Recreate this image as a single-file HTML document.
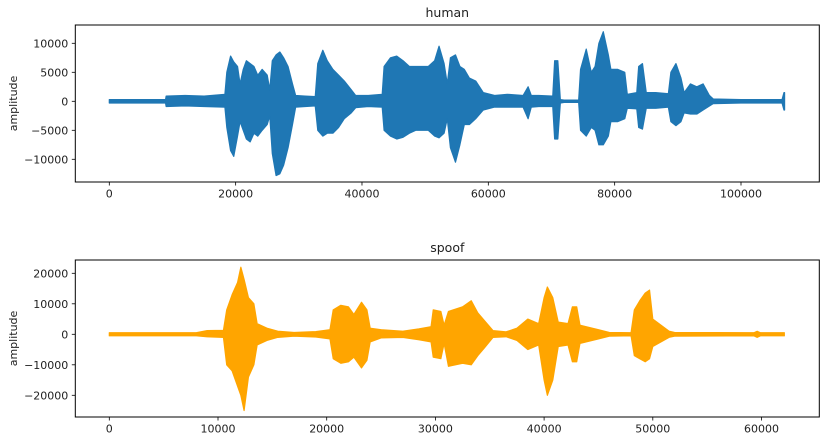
<!DOCTYPE html>
<html><head><meta charset="utf-8"><style>
html,body{margin:0;padding:0;background:#fff;width:826px;height:443px;overflow:hidden}
svg{display:block;font-family:"DejaVu Sans","Liberation Sans",sans-serif}
</style></head><body>
<svg id="chart" width="826" height="443" viewBox="0 0 826 443"></svg>
<script>
// human waveform envelope (sample index in thousands, max, min)
const hx=[0,8.9,9.0,12,15,18.3,18.6,19.2,19.7,20.3,20.7,21.2,21.7,22.3,22.9,23.5,24.2,25.0,25.4,25.8,26.4,27.0,27.6,28.3,29.0,29.5,31,32.6,33.0,33.8,34.5,35.4,36.3,37.2,38.3,39,41,43.2,43.5,44.5,45.5,46.5,47.5,48.5,49.5,50.5,51.5,52.2,53.0,53.5,54.0,54.8,55.5,56.2,57,58,59.2,61,63,65.5,66.3,66.8,68,70.2,70.5,71.0,71.4,72,74.3,74.6,75.5,76.3,76.9,77.5,78.2,79.0,79.4,80.5,81.6,82,83.5,83.8,84.4,85,86.5,88.5,88.9,89.7,90.5,91,92,93,94,95,95.6,100,106.5,106.8,106.9];
const hmax=[300,300,900,1000,900,1200,5000,7800,6800,6000,3000,5500,7000,6500,6000,4500,5500,4500,2000,7000,8000,8500,7500,6000,3000,1000,900,800,6500,8800,7000,5500,4500,3500,2000,1000,1000,1200,6000,7500,7800,7000,6000,6000,6000,6000,7000,9500,6500,3000,7500,8000,6000,5500,4000,3500,1500,1000,1200,1000,2500,1000,1000,900,7000,7000,300,200,200,5500,9000,5000,6000,10000,12000,8000,5500,5500,5000,1200,1500,6000,6500,1500,1500,1300,5000,6500,4000,1500,3000,2500,3000,1000,400,300,300,1500,1500];
const hmin=[-300,-300,-900,-800,-900,-1000,-4500,-8500,-9500,-6000,-3500,-5000,-6500,-7000,-5500,-6000,-5000,-4000,-2500,-9000,-12800,-12500,-11000,-8000,-4000,-1000,-900,-800,-5000,-6000,-5500,-5500,-4500,-3000,-2000,-1100,-900,-1000,-5000,-6000,-6500,-6200,-5500,-5000,-5000,-5000,-6000,-6300,-5500,-3000,-8000,-10500,-7500,-4000,-4000,-3000,-1500,-1000,-1000,-1000,-3000,-1000,-900,-900,-6500,-6500,-300,-200,-200,-5000,-6000,-4500,-5000,-7500,-7500,-6000,-3500,-3500,-3000,-1200,-1300,-4500,-4800,-1200,-1200,-1000,-3500,-4200,-3500,-2000,-2200,-2200,-1500,-800,-400,-300,-300,-1500,-1500];
// spoof waveform envelope
const sx=[0,8,9,10.5,10.8,11.3,11.8,12.1,12.4,12.8,13.3,13.6,14.5,15.5,17,19,20.3,20.6,21.3,22.0,22.5,23.2,23.7,24.0,25,27,28.5,29.6,29.8,30.5,30.8,31.2,32.5,33.3,33.9,34.5,35.3,36.5,37.5,38.5,39.5,40.0,40.3,40.8,41.3,42.2,42.6,43.0,43.3,45,46,48,48.3,48.8,49.3,49.7,50.0,51.5,52,59.3,59.6,59.9,62.1];
const smax=[500,500,1200,1300,8000,13000,17000,22000,18000,12000,10000,3500,2000,1000,600,900,1500,8000,9500,9000,6500,10500,8000,2000,1500,1000,1800,2500,8000,7500,3000,7500,9000,11000,7000,4500,1200,800,2000,5000,3500,12000,15500,12000,4000,3500,9000,9000,3000,1500,600,500,8000,11000,13500,14500,5000,1000,600,500,1000,500,500];
const smin=[-500,-500,-800,-1000,-10000,-12000,-17000,-20000,-25000,-14000,-10000,-3500,-2000,-1000,-600,-900,-1500,-8000,-9500,-9000,-7500,-11000,-8500,-2500,-1200,-1000,-1800,-2500,-7500,-8000,-3000,-10500,-9500,-10000,-7000,-4500,-1000,-800,-2000,-5000,-3500,-15000,-20000,-15000,-4000,-3500,-9000,-9000,-3000,-1500,-600,-500,-7000,-8000,-9000,-8000,-4000,-1000,-600,-500,-1000,-500,-500];
const hXTicks=[0,20000,40000,60000,80000,100000];
const hYTicks=[-10000,-5000,0,5000,10000];
const sXTicks=[0,10000,20000,30000,40000,50000,60000];
const sYTicks=[-20000,-10000,0,10000,20000];

const NS="http://www.w3.org/2000/svg";
const svg=document.getElementById('chart');
function mk(t,a,p){const e=document.createElementNS(NS,t);for(const k in a)e.setAttribute(k,a[k]);(p||svg).appendChild(e);return e;}
const fmt=v=>v<0?'\u2212'+(-v):String(v);

function panel(key,title,color,xs,mx,mn,xt,yt,x0,x1,y0,y1,xmin,xmax,ymin,ymax){
  const g=mk('g',{});
  
  
  const X=v=>x0+(v-xmin)/(xmax-xmin)*(x1-x0);
  const Y=v=>y1-(v-ymin)/(ymax-ymin)*(y1-y0);
  let pts=[];
  for(let i=0;i<xs.length;i++)pts.push(X(xs[i]*1000).toFixed(2)+','+Y(mx[i]).toFixed(2));
  for(let i=xs.length-1;i>=0;i--)pts.push(X(xs[i]*1000).toFixed(2)+','+Y(mn[i]).toFixed(2));
  const w=mk('polygon',{points:pts.join(' '),fill:color,stroke:color,'stroke-width':1.2,'stroke-linejoin':'round'},g);
  
  
  const fr=mk('rect',{x:x0,y:y0,width:x1-x0,height:y1-y0,fill:'none',stroke:'#000','stroke-width':1},g);
  
  
  xt.forEach(v=>{
    const x=X(v);
    mk('line',{x1:x,x2:x,y1:y1,y2:y1+3.5,stroke:'#000','stroke-width':0.8},g);
    const t=mk('text',{x:x,y:y1+15.5,'font-size':11,'text-anchor':'middle',fill:'#222'},g);
    t.textContent=fmt(v);
    
    
  });
  yt.forEach(v=>{
    const y=Y(v);
    mk('line',{x1:x0-3.5,x2:x0,y1:y,y2:y,stroke:'#000','stroke-width':0.8},g);
    const t=mk('text',{x:x0-7,y:y+4,'font-size':11,'text-anchor':'end',fill:'#222'},g);
    t.textContent=fmt(v);
    
    
  });
  const tt=mk('text',{x:(x0+x1)/2,y:y0-8,'font-size':12.5,'text-anchor':'middle',fill:'#222'},g);
  tt.textContent=title;
  
  
  const cy=(y0+y1)/2;
  const yl=mk('text',{x:17,y:cy,'font-size':11,'text-anchor':'middle',fill:'#222',transform:'rotate(-90 17 '+cy+')'},g);
  yl.textContent='amplitude';
  
  
}
panel('human','human','#1f77b4',hx,hmax,hmin,hXTicks,hYTicks,75.3,819.3,25,182,-5383,112395,-13914,13155);
panel('spoof','spoof','#ffa500',sx,smax,smin,sXTicks,sYTicks,75.3,819.3,260,417,-3128,65317,-27115,24360);
</script>
</body></html>
